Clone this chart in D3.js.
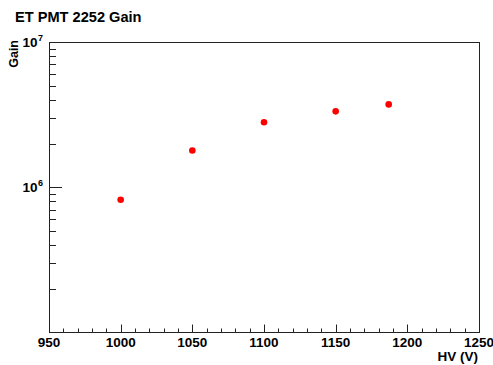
<!DOCTYPE html>
<meta charset="utf-8">
<script src="https://d3js.org/d3.v7.min.js"></script>
<style>
body { margin:0; background:#fff; overflow:hidden; }
text { font-family:'Liberation Sans', Arial, sans-serif; font-weight:bold; fill:#000; }
</style>
<svg width="493" height="365"></svg>
<script>

// measured HV points and gain
var hv = [1000, 1050, 1100, 1150, 1187];
var gain = [8.2e5, 1.79e6, 2.8e6, 3.33e6, 3.72e6];
var xTicks = [950, 1000, 1050, 1100, 1150, 1200, 1250];
var yDecades = [1e6, 1e7];

var svg = d3.select('svg');
var padL = 49, padR = 479, padT = 42, padB = 332.5;

var x = d3.scaleLinear().domain([950, 1250]).range([padL, padR]);
var y = d3.scaleLog().domain([1e5, 1e7]).range([padB, padT]);

// frame
svg.append('rect')
    .attr('x', padL + 0.5).attr('y', padT + 0.5)
    .attr('width', padR - padL).attr('height', padB - padT - 0.5)
    .attr('fill', 'none').attr('stroke', '#222').attr('stroke-width', 1);

// x axis ticks
var xMinor = d3.range(950, 1251, 10);
svg.append('g').selectAll('line').data(xMinor).enter().append('line')
    .attr('x1', function(d) { return Math.round(x(d)) + 0.5 })
    .attr('x2', function(d) { return Math.round(x(d)) + 0.5 })
    .attr('y1', padB)
    .attr('y2', function(d) { return d % 50 === 0 ? padB - 8 : padB - 4 })
    .attr('stroke', '#222');
svg.append('g').selectAll('text').data(xTicks).enter().append('text')
    .attr('x', function(d) { return x(d) })
    .attr('y', 346.5)
    .attr('text-anchor', 'middle')
    .attr('font-size', 13.5)
    .text(function(d) { return d });

// y axis ticks (log)
var yMinor = [];
[1e5, 1e6].forEach(function(dec) {
    for (var k = 2; k <= 9; k++) yMinor.push(dec * k);
});
svg.append('g').selectAll('line').data(yMinor.concat(yDecades)).enter().append('line')
    .attr('y1', function(d) { return Math.round(y(d)) + 0.5 })
    .attr('y2', function(d) { return Math.round(y(d)) + 0.5 })
    .attr('x1', padL)
    .attr('x2', function(d) { return yDecades.indexOf(d) > -1 ? padL + 13 : padL + 7 })
    .attr('stroke', '#222');
var yl = svg.append('g').selectAll('text').data(yDecades).enter().append('text')
    .attr('x', 43)
    .attr('y', function(d) { return y(d) + 5 })
    .attr('text-anchor', 'end')
    .attr('font-size', 13.5);
yl.append('tspan').text('10');
yl.append('tspan').attr('dy', -6).attr('dx', 0.5).attr('font-size', 9)
    .text(function(d) { return Math.round(Math.log10(d)) });

// points
svg.append('g').selectAll('circle').data(hv).enter().append('circle')
    .attr('cx', function(d) { return x(d) })
    .attr('cy', function(d, i) { return y(gain[i]) })
    .attr('r', 3.3)
    .attr('fill', '#ff0000');

// titles
svg.append('text').attr('x', 15).attr('y', 22).attr('font-size', 14.6)
    .text('ET PMT 2252 Gain');
svg.append('text').attr('x', 478).attr('y', 361).attr('text-anchor', 'end')
    .attr('font-size', 13.5).text('HV (V)');
svg.append('text').attr('transform', 'translate(18,40) rotate(-90)')
    .attr('text-anchor', 'end').attr('font-size', 12.5).text('Gain');

</script>
